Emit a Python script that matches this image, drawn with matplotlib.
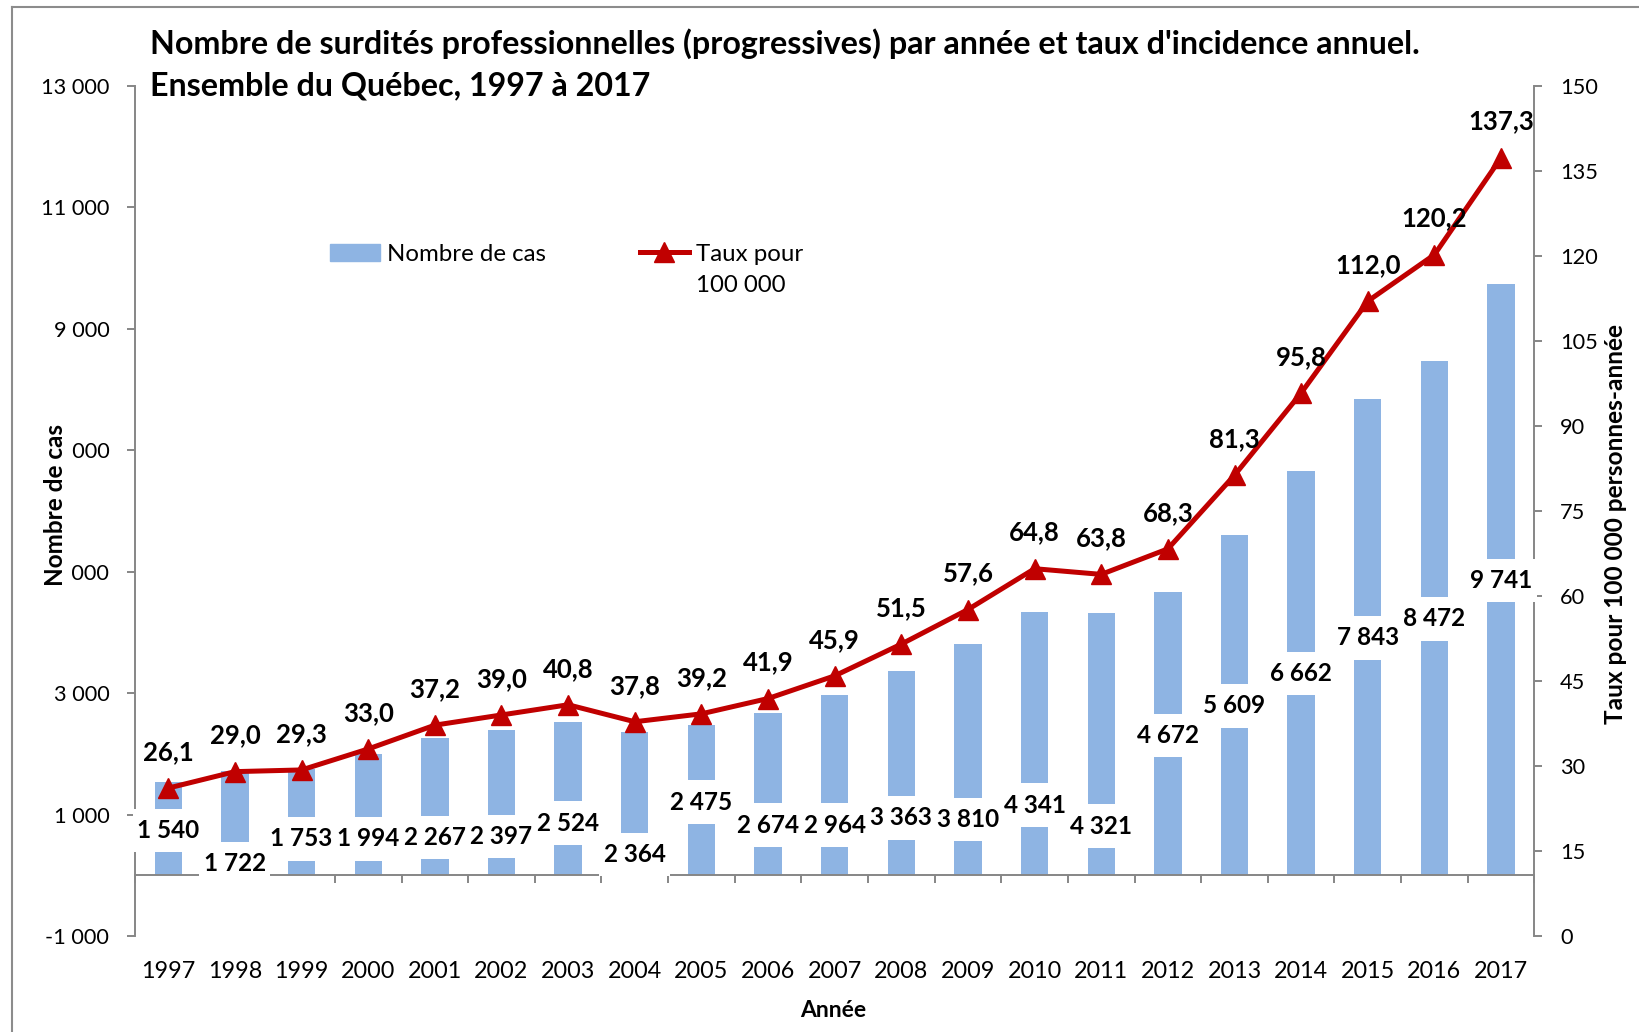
import matplotlib
matplotlib.use("Agg")
import matplotlib.pyplot as plt
from matplotlib.patches import Patch
from matplotlib.lines import Line2D
from matplotlib.path import Path
from matplotlib.ticker import FuncFormatter

# ---------------- data ----------------
years = [str(y) for y in range(1997, 2018)]
counts = [1540, 1722, 1753, 1994, 2267, 2397, 2524, 2364, 2475, 2674, 2964,
          3363, 3810, 4341, 4321, 4672, 5609, 6662, 7843, 8472, 9741]
rates = [26.1, 29.0, 29.3, 33.0, 37.2, 39.0, 40.8, 37.8, 39.2, 41.9, 45.9,
         51.5, 57.6, 64.8, 63.8, 68.3, 81.3, 95.8, 112.0, 120.2, 137.3]
left_ticks = list(range(-1000, 13001, 2000))
right_ticks = list(range(0, 151, 15))

# vertical placement of the count labels (left-axis units), as in the original
count_label_pos = [740, 190, 600, 600, 620, 640, 860, 345, 1205, 825, 825,
                   945, 915, 1155, 810, 2305, 2790, 3325, 3910, 4220, 4855]

title1 = "Nombre de surdités professionnelles (progressives) par année et taux d'incidence annuel."
title2 = "Ensemble du Québec, 1997 à 2017"

# ---------------- style ----------------
plt.rcParams['font.family'] = ['Lato', 'DejaVu Sans']
BAR = '#8EB4E3'
RED = '#C00000'
GRAY = '#868686'

def fmt_int(v):
    return f"{int(v):,}".replace(',', ' ')

def fmt_rate(v):
    return f"{v:.1f}".replace('.', ',')

def tall_box(x0, y0, width, height, mutation_size):
    """White label box: narrow side padding, taller top/bottom padding."""
    px = 0.18 * mutation_size
    py = 0.42 * mutation_size
    x1, y1 = x0 + width + px, y0 + height + py
    xa, ya = x0 - px, y0 - py
    return Path([(xa, ya), (x1, ya), (x1, y1), (xa, y1), (xa, ya)],
                [Path.MOVETO, Path.LINETO, Path.LINETO, Path.LINETO, Path.CLOSEPOLY])

fig = plt.figure(figsize=(16.4, 10.32), dpi=100)
ax = fig.add_axes([0.0823, 0.093, 0.9356 - 0.0823, 0.9169 - 0.093])
ax2 = ax.twinx()

xs = list(range(len(years)))
ax.bar(xs, counts, width=0.41, color=BAR, zorder=2)
ax.set_xlim(-0.5, len(years) - 0.5)
ax.set_ylim(-1000, 13000)
ax2.set_ylim(0, 150)

ax.set_yticks(left_ticks)
ax.yaxis.set_major_formatter(FuncFormatter(lambda v, p: fmt_int(v)))
ax2.set_yticks(right_ticks)

for s in ['top', 'right']:
    ax.spines[s].set_visible(False)
ax.spines['bottom'].set_position(('data', 0))
for s in ['left', 'bottom']:
    ax.spines[s].set_color(GRAY)
    ax.spines[s].set_linewidth(1.4)
for s in ['top', 'bottom', 'left']:
    ax2.spines[s].set_visible(False)
ax2.spines['right'].set_color(GRAY)
ax2.spines['right'].set_linewidth(1.4)

ax.tick_params(axis='y', length=5.5, width=1.4, color=GRAY, pad=13, labelsize=15.7)
ax2.tick_params(axis='y', length=5.5, width=1.4, color=GRAY, pad=13, labelsize=15.7)

ax.set_xticks([i - 0.5 for i in range(len(years) + 1)])
ax.set_xticks(xs, minor=True)
ax.set_xticklabels(years, minor=True)
ax.tick_params(axis='x', which='major', length=5.5, width=1.4, color=GRAY, labelbottom=False)
ax.tick_params(axis='x', which='minor', length=0, pad=62, labelsize=16.8)

ax2.plot(xs, rates, color=RED, lw=3.6, marker='^', ms=14, zorder=3)

for i, r in enumerate(rates):
    ax2.annotate(fmt_rate(r), (i, r), xytext=(0, 26), textcoords='offset points',
                 ha='center', va='center', fontweight='bold', fontsize=18.5, zorder=5)

for i, (c, ly) in enumerate(zip(counts, count_label_pos)):
    ax2.text(i, ly, fmt_int(c), transform=ax.transData, ha='center', va='center',
             fontweight='bold', fontsize=17.5, zorder=6,
             bbox=dict(boxstyle=tall_box, fc='white', ec='none'))

# titles and axis labels
t1 = fig.text(0.0912, 0.9575, title1, fontweight='bold', fontsize=22, va='center', ha='left')
t2 = fig.text(0.0912, 0.9169, title2, fontweight='bold', fontsize=22, va='center', ha='left')
yl = fig.text(0.0338, 0.511, 'Nombre de cas', rotation=90, ha='center', va='center',
              fontweight='bold', fontsize=16, zorder=10,
              bbox=dict(boxstyle='square,pad=0.05', fc='white', ec='none'))
yr = fig.text(0.985, 0.492, 'Taux pour 100 000 personnes-année', rotation=90,
              ha='center', va='center', fontweight='bold', fontsize=16)
fig.text(0.508, 0.0211, 'Année', ha='center', va='center', fontweight='bold', fontsize=16.5)

leg = fig.legend(handles=[Patch(color=BAR),
                          Line2D([], [], color=RED, lw=3.6, marker='^', ms=14)],
                 labels=['Nombre de cas', 'Taux pour'], ncol=2, frameon=False,
                 loc='center left', bbox_to_anchor=(0.2015, 0.7537), fontsize=17.3,
                 handlelength=2.05, handletextpad=0.3, columnspacing=3.9,
                 borderpad=0, borderaxespad=0)

# frame lines (top and left edges of the chart area border)
fig.add_artist(Line2D([0.0073, 0.0073], [0, 0.9932], color='#8c8c8c', lw=1.5,
                      transform=fig.transFigure))
fig.add_artist(Line2D([0.0073, 1], [0.9932, 0.9932], color='#8c8c8c', lw=1.5,
                      transform=fig.transFigure))

# fit text widths to the original layout
fig.canvas.draw()
r = fig.canvas.get_renderer()
def fit(t, target_px, vertical=False):
    bb = t.get_window_extent(r)
    cur = bb.height if vertical else bb.width
    t.set_fontsize(t.get_fontsize() * target_px / cur)
fit(t1, 1271)
t2.set_fontsize(t1.get_fontsize())
fit(yr, 400, vertical=True)
fit(yl, 162, vertical=True)
fig.canvas.draw()

lt = leg.get_texts()[1].get_window_extent(r)
fig.text(lt.x0 / fig.bbox.width, (lt.y0 + lt.height / 2 - 31.4) / fig.bbox.height,
         '100 000', fontsize=17.3, ha='left', va='center')

fig.savefig('out.png', dpi=100)
